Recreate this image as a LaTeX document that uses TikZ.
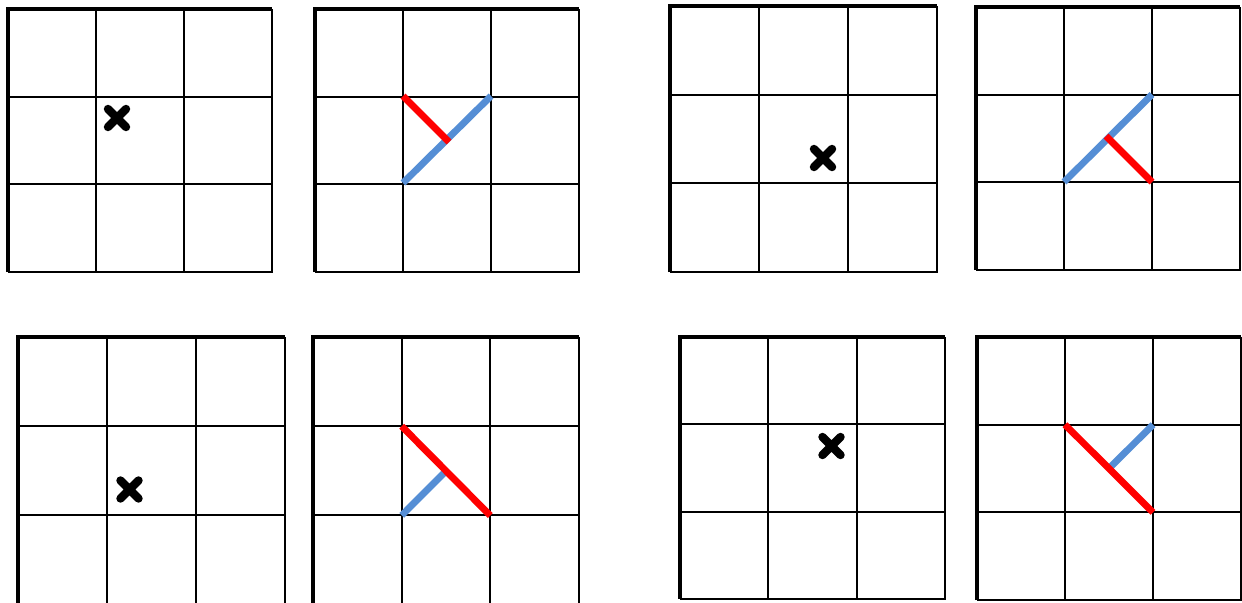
\documentclass[tikz,border=0pt]{standalone}
\usepackage{tikz}
\usetikzlibrary{calc}
\definecolor{cutred}{RGB}{255,0,0}
\definecolor{cutblue}{RGB}{85,142,213}

\tikzset{
  gridline/.style={line width=0.55pt},
  outerline/.style={line width=1.2pt},
  crossmark/.style={line width=2.4pt,line cap=round},
  bluecut/.style={cutblue,line width=1.95pt},
  redcut/.style={cutred,line width=1.95pt},
}

% #1 left, #2 top, #3 cell width, #4 cell height (pixel units)
\newcommand{\cellgrid}[4]{%
  \foreach \i in {1,2} {
    \draw[gridline] (#1+\i*#3,#2) -- (#1+\i*#3,#2+3*#4);
    \draw[gridline] (#1,#2+\i*#4) -- (#1+3*#3,#2+\i*#4);
  }
  \draw[gridline] (#1+3*#3,#2) -- (#1+3*#3,#2+3*#4) -- (#1,#2+3*#4);
  \draw[outerline] (#1,#2+3*#4) -- (#1,#2) -- (#1+3*#3,#2);
}
\newcommand{\crossat}[2]{%
  \draw[crossmark] (#1-9,#2-9) -- (#1+9,#2+9) (#1-9,#2+9) -- (#1+9,#2-9);
}

\begin{document}
\begin{tikzpicture}[x=0.01cm,y=-0.01cm]
  \useasboundingbox (0,0) rectangle (1242,603);
  % top row
  \cellgrid{8}{9}{88}{87.7}
  \crossat{117}{118}
  \cellgrid{315}{9}{88}{87.7}
  \draw[bluecut] (403,183) -- (491,96);
  \draw[redcut] (403,96) -- (449,142);
  \cellgrid{670}{6}{89}{88.7}
  \crossat{823}{158}
  \cellgrid{976}{7}{88}{87.7}
  \draw[bluecut] (1064,182) -- (1152,94.5);
  \draw[redcut] (1106,136) -- (1152,182);
  % bottom row (lower edge runs off the page)
  \cellgrid{18}{337}{89}{89.2}
  \crossat{129.5}{489.5}
  \cellgrid{313}{337}{88.7}{89.2}
  \draw[bluecut] (401.7,515.4) -- (446.5,470.5);
  \draw[redcut] (401.7,426.2) -- (490.3,515.6);
  \cellgrid{680}{337}{88.3}{87.3}
  \crossat{831.5}{446}
  \cellgrid{977}{337}{88}{87.7}
  \draw[bluecut] (1153,424.7) -- (1109,468.5);
  \draw[redcut] (1065,424.7) -- (1153,512.4);
\end{tikzpicture}
\end{document}
